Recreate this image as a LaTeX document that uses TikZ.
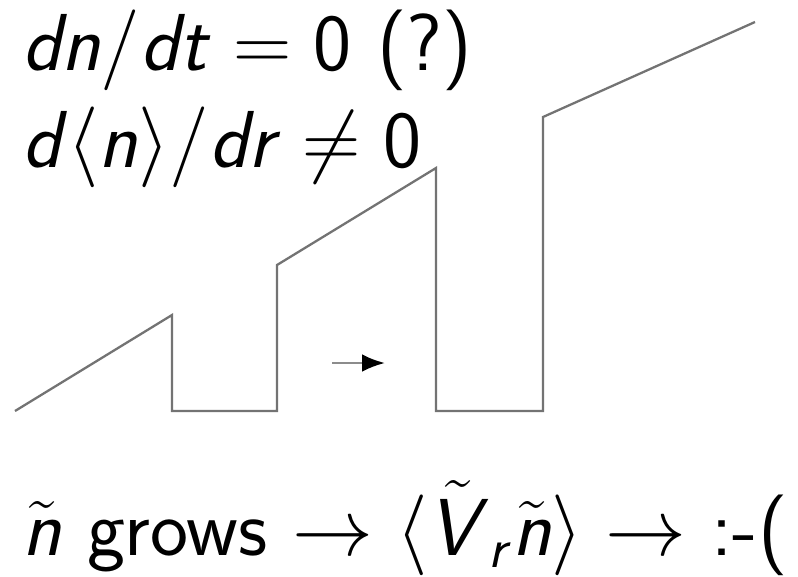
\documentclass[tikz,border=0pt]{standalone}
\usepackage{fix-cm}
\usepackage{amsmath}
\usepackage{tikz}
\usetikzlibrary{arrows.meta}
\newcommand{\mv}[1]{\textsf{\textit{#1}}}
\newcommand{\mnum}[1]{\textsf{#1}}
\tikzset{profile/.style={draw=black!55, line width=1.3pt},
  lbl/.style={anchor=base west, inner sep=0pt, font=\fontsize{46}{52}\selectfont\sffamily}}

\begin{document}
\begin{tikzpicture}[x=0.02cm,y=-0.02cm]
  \useasboundingbox (0,0) rectangle (798,576);
  % Perfil en dents de serra
  \coordinate (p0) at (15,411);
  \coordinate (p1) at (172,315);
  \coordinate (p2) at (172,411);
  \coordinate (p3) at (277,411);
  \coordinate (p4) at (277,265);
  \coordinate (p5) at (436,168);
  \coordinate (p6) at (436,411);
  \coordinate (p7) at (543,411);
  \coordinate (p8) at (543,117);
  \coordinate (p9) at (755,22);
  \draw[profile] (p0) -- (p1) -- (p2) -- (p3) -- (p4) -- (p5) -- (p6) -- (p7) -- (p8) -- (p9);
  % Fletxa
  \coordinate (a0) at (332,363);
  \coordinate (a1) at (385,363);
  \draw[draw=black!45, line width=1.5pt, -{Latex[black,length=13pt,width=10pt]}] (a0) -- (a1);
  % Textos
  \node[lbl] (dndt) at (22,70) {$\mv{dn}/\mv{dt} = \mnum{0}$ (?)};
  \node[lbl] (drn) at (22,167) {$\mv{d}\langle \mv{n}\rangle/\mv{dr} \neq \mnum{0}$};
  \node[lbl] (grow) at (22,555) {$\tilde{\mv{n}}$ grows $\rightarrow \langle \tilde{\mv{V}}_{\mv{r}} \tilde{\mv{n}}\rangle \rightarrow$ :-(};
\end{tikzpicture}
\end{document}
